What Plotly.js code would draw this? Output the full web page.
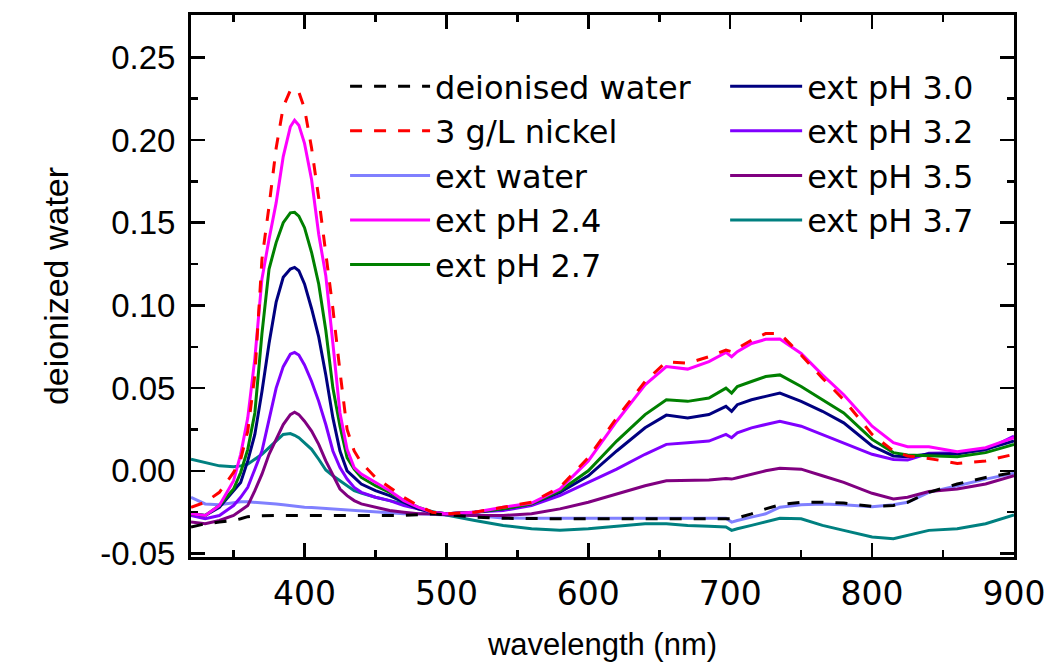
<!DOCTYPE html>
<html>
<head>
<meta charset="utf-8">
<script src="https://cdn.plot.ly/plotly-3.0.1.min.js"></script>
<style>html,body{margin:0;padding:0;background:#fff;}#chart{width:1045px;height:667px;}</style>
</head>
<body>
<div id="chart"></div>
<script>
const WAVELENGTH = [320,330,340,350,355,360,365,370,375,380,385,390,393,396,400,405,410,415,420,425,430,435,440,450,460,470,480,490,500,520,540,560,580,600,620,640,655,670,685,697,701,705,715,725,735,750,765,780,800,815,825,840,860,880,900];

const DEIONISED_WATER = [-0.034,-0.032,-0.031,-0.030,-0.029,-0.0277,-0.0272,-0.027,-0.027,-0.027,-0.027,-0.027,-0.027,-0.027,-0.027,-0.027,-0.027,-0.027,-0.027,-0.027,-0.027,-0.027,-0.027,-0.027,-0.027,-0.027,-0.0265,-0.026,-0.0265,-0.028,-0.0287,-0.029,-0.029,-0.029,-0.029,-0.029,-0.029,-0.029,-0.029,-0.029,-0.029,-0.0285,-0.026,-0.023,-0.0205,-0.019,-0.019,-0.0195,-0.0215,-0.021,-0.019,-0.013,-0.008,-0.004,-0.001];

const NICKEL_3GL = [-0.022,-0.019,-0.013,-0.001,0.007,0.024,0.058,0.128,0.160,0.195,0.220,0.230,0.231,0.229,0.219,0.195,0.165,0.133,0.098,0.060,0.025,0.012,0.005,-0.004,-0.010,-0.016,-0.021,-0.025,-0.026,-0.025,-0.022,-0.019,-0.010,0.008,0.032,0.054,0.066,0.065,0.069,0.073,0.072,0.074,0.079,0.083,0.083,0.070,0.056,0.043,0.022,0.012,0.009,0.0075,0.0045,0.006,0.010];

const EXT_WATER = [-0.016,-0.020,-0.0205,-0.019,-0.0187,-0.0187,-0.019,-0.019,-0.0195,-0.020,-0.0205,-0.021,-0.0215,-0.0217,-0.022,-0.0222,-0.0225,-0.023,-0.0232,-0.0235,-0.024,-0.0242,-0.0245,-0.025,-0.0255,-0.026,-0.026,-0.0265,-0.0267,-0.027,-0.0285,-0.0287,-0.0287,-0.0287,-0.0287,-0.0287,-0.0287,-0.0287,-0.0287,-0.0287,-0.031,-0.030,-0.028,-0.026,-0.022,-0.0205,-0.020,-0.0205,-0.0217,-0.0205,-0.019,-0.013,-0.009,-0.005,-0.0015];

const EXT_PH_2_4 = [-0.026,-0.027,-0.021,-0.006,0.010,0.032,0.068,0.116,0.140,0.162,0.190,0.208,0.212,0.209,0.198,0.176,0.143,0.118,0.077,0.035,0.013,0.002,-0.002,-0.007,-0.012,-0.018,-0.022,-0.025,-0.026,-0.025,-0.022,-0.0195,-0.011,0.006,0.030,0.052,0.063,0.0615,0.066,0.0716,0.069,0.072,0.077,0.0795,0.0797,0.071,0.058,0.046,0.027,0.017,0.0146,0.0146,0.0116,0.014,0.020];

const EXT_PH_2_7 = [-0.026,-0.027,-0.021,-0.011,-0.001,0.013,0.035,0.083,0.122,0.138,0.150,0.156,0.1563,0.154,0.147,0.132,0.113,0.085,0.050,0.027,0.008,0.001,-0.004,-0.009,-0.013,-0.018,-0.022,-0.025,-0.026,-0.025,-0.023,-0.020,-0.012,0.000,0.018,0.034,0.043,0.042,0.044,0.050,0.047,0.051,0.054,0.057,0.058,0.051,0.043,0.035,0.019,0.011,0.0096,0.009,0.0085,0.011,0.016];

const EXT_PH_3_0 = [-0.026,-0.027,-0.022,-0.012,-0.007,0.006,0.022,0.048,0.077,0.102,0.117,0.122,0.123,0.121,0.113,0.098,0.081,0.058,0.032,0.012,0.000,-0.004,-0.008,-0.012,-0.015,-0.019,-0.023,-0.025,-0.026,-0.025,-0.023,-0.020,-0.013,-0.003,0.012,0.026,0.0337,0.032,0.034,0.039,0.036,0.040,0.043,0.045,0.047,0.042,0.036,0.029,0.015,0.009,0.0085,0.0102,0.0102,0.013,0.018];

const EXT_PH_3_2 = [-0.027,-0.029,-0.027,-0.021,-0.016,-0.010,0.001,0.012,0.031,0.050,0.063,0.0705,0.0716,0.070,0.064,0.054,0.042,0.028,0.012,0.002,-0.005,-0.010,-0.013,-0.016,-0.018,-0.021,-0.023,-0.025,-0.026,-0.025,-0.024,-0.021,-0.015,-0.007,0.001,0.010,0.016,0.017,0.018,0.022,0.020,0.023,0.026,0.028,0.030,0.027,0.022,0.017,0.010,0.0068,0.0065,0.0106,0.011,0.0125,0.021];

const EXT_PH_3_5 = [-0.031,-0.032,-0.030,-0.027,-0.024,-0.021,-0.012,-0.002,0.010,0.019,0.028,0.034,0.0354,0.034,0.030,0.024,0.016,0.006,-0.003,-0.011,-0.015,-0.018,-0.020,-0.022,-0.024,-0.025,-0.026,-0.026,-0.0265,-0.027,-0.027,-0.026,-0.023,-0.019,-0.014,-0.009,-0.006,-0.006,-0.0056,-0.0046,-0.005,-0.0042,-0.002,0.000,0.0015,0.001,-0.003,-0.007,-0.0136,-0.017,-0.016,-0.0125,-0.011,-0.008,-0.003];

const EXT_PH_3_7 = [0.007,0.005,0.003,0.0025,0.003,0.004,0.007,0.010,0.014,0.018,0.022,0.0225,0.0215,0.020,0.017,0.013,0.007,0.0005,-0.003,-0.006,-0.009,-0.012,-0.0135,-0.016,-0.018,-0.020,-0.0225,-0.0245,-0.0267,-0.030,-0.033,-0.035,-0.036,-0.035,-0.0335,-0.032,-0.032,-0.033,-0.0335,-0.034,-0.036,-0.035,-0.033,-0.031,-0.0287,-0.029,-0.033,-0.036,-0.040,-0.041,-0.039,-0.036,-0.035,-0.032,-0.0267];

const Y_TICKS = [-0.05, 0, 0.05, 0.10, 0.15, 0.20, 0.25];
const Y_TICK_LABELS = ["-0.05", "0.00", "0.05", "0.10", "0.15", "0.20", "0.25"];

const FONT = "Arial, 'Liberation Sans', sans-serif";
const WIDE_FONT = "'DejaVu Sans', Verdana, sans-serif";

function tr(name, y, color, dash, legend, rank) {
  return {
    x: WAVELENGTH, y: y, name: name, type: 'scatter', mode: 'lines',
    line: {color: color, width: 3, dash: dash || 'solid'},
    legend: legend, legendrank: rank
  };
}

const traces = [
  tr('ext water', EXT_WATER, '#8080ff', null, 'legend', 3),
  tr('ext pH 3.7', EXT_PH_3_7, '#008080', null, 'legend2', 4),
  tr('ext pH 3.5', EXT_PH_3_5, '#800080', null, 'legend2', 3),
  tr('ext pH 3.2', EXT_PH_3_2, '#8000ff', null, 'legend2', 2),
  tr('ext pH 3.0', EXT_PH_3_0, '#000080', null, 'legend2', 1),
  tr('ext pH 2.7', EXT_PH_2_7, '#008000', null, 'legend', 5),
  tr('ext pH 2.4', EXT_PH_2_4, '#ff00ff', null, 'legend', 4),
  tr('deionised water', DEIONISED_WATER, '#000000', '12px,12px', 'legend', 1),
  tr('3 g/L nickel', NICKEL_3GL, '#ff0000', '12px,12px', 'legend', 2)
];

const axisCommon = {
  showline: true, linecolor: '#000', linewidth: 3, mirror: 'allticks',
  ticks: 'inside', ticklen: 14, tickwidth: 2.5, tickcolor: '#000',
  showgrid: false, zeroline: false, ticklabeloverflow: 'allow'
};

const legendFont = {family: WIDE_FONT, size: 32, color: '#000'};

const layout = {
  width: 1045, height: 667,
  margin: {l: 191, r: 31, t: 15, b: 110},
  paper_bgcolor: '#fff', plot_bgcolor: '#fff',
  font: {family: FONT, color: '#000'},
  showlegend: true,
  xaxis: Object.assign({}, axisCommon, {
    range: [320, 900], dtick: 100, tick0: 0,
    tickfont: {family: WIDE_FONT, size: 33, color: '#000'},
    minor: {ticks: 'inside', ticklen: 7, tickwidth: 2.5, tickcolor: '#000', dtick: 50},
    ticklabelstandoff: 5,
    title: {text: 'wavelength (nm)', font: {family: FONT, size: 31, color: '#000'}, standoff: 22}
  }),
  yaxis: Object.assign({}, axisCommon, {
    range: [-0.0521, 0.2756], tickmode: 'array', tickvals: Y_TICKS, ticktext: Y_TICK_LABELS,
    tickfont: {family: FONT, size: 33, color: '#000'},
    minor: {ticks: 'inside', ticklen: 7, tickwidth: 2.5, tickcolor: '#000', dtick: 0.025, tick0: 0},
    ticklabelstandoff: 6,
    title: {text: 'deionized water', font: {family: FONT, size: 34, color: '#000'}, standoff: 22}
  }),
  legend: {
    x: 0.1872, y: 0.919, xanchor: 'left', yanchor: 'top',
    bgcolor: 'rgba(0,0,0,0)', borderwidth: 0,
    font: legendFont, itemwidth: 80, traceorder: 'normal'
  },
  legend2: {
    x: 0.649, y: 0.919, xanchor: 'left', yanchor: 'top',
    bgcolor: 'rgba(0,0,0,0)', borderwidth: 0,
    font: legendFont, itemwidth: 72, traceorder: 'normal'
  }
};

Plotly.newPlot('chart', traces, layout, {staticPlot: true, displayModeBar: false});
</script>
</body>
</html>
